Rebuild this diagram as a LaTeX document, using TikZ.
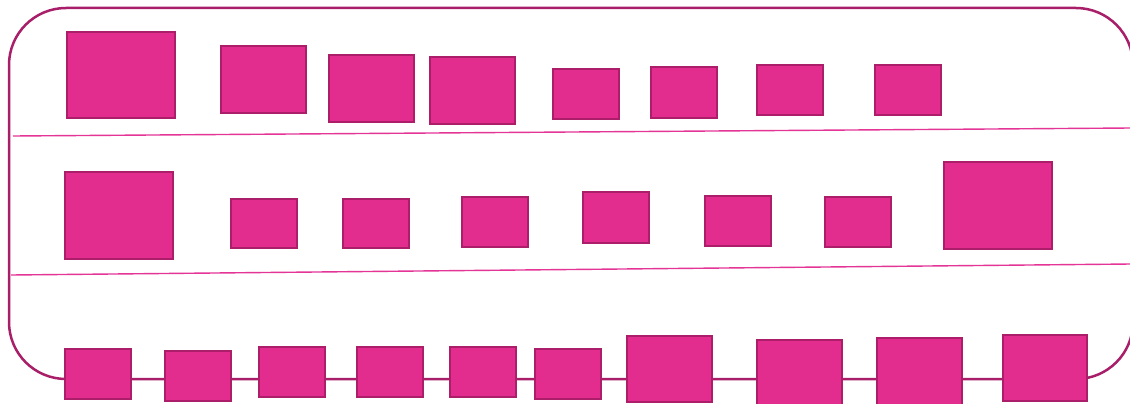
\documentclass[tikz,border=0pt]{standalone}
\definecolor{boxfill}{RGB}{226,45,143}
\definecolor{boxedge}{RGB}{172,30,106}
\definecolor{frameedge}{RGB}{168,30,104}
\definecolor{sepline}{RGB}{228,52,150}
\tikzset{
  pinkbox/.style={draw=boxedge, fill=boxfill, line width=2.6pt, inner sep=0pt, outer sep=0pt, anchor=north west},
  frame/.style={draw=frameedge, line width=2.5pt},
  sep/.style={draw=sepline, line width=1.4pt}
}
\newcommand{\pbox}[5]{\node[pinkbox, minimum width={#4-#2}, minimum height={#5-#3}] (#1) at (#2,#3) {};}
\begin{document}
\begin{tikzpicture}[x=1pt,y=-1pt]
\useasboundingbox (0,0) rectangle (1130,404);
\clip (0,0) rectangle (1130,404);
\fill[white] (0,0) rectangle (1130,404);
% frame
\draw[frame, rounded corners=57pt] (9,8) rectangle (1133,379);
% separators
\coordinate (s1a) at (13,136); \coordinate (s1b) at (1131,128);
\coordinate (s2a) at (11,275); \coordinate (s2b) at (1131,264);
\draw[sep] (s1a) -- (s1b);
\draw[sep] (s2a) -- (s2b);
% row 1
\pbox{a1}{67}{32}{175}{118}
\pbox{a2}{221}{46}{306}{113}
\pbox{a3}{329}{55}{414}{122}
\pbox{a4}{430}{57}{515}{124}
\pbox{a5}{553}{69}{619}{119}
\pbox{a6}{651}{67}{717}{118}
\pbox{a7}{757}{65}{823}{115}
\pbox{a8}{875}{65}{941}{115}
% row 2
\pbox{b1}{65}{172}{173}{259}
\pbox{b2}{231}{199}{297}{248}
\pbox{b3}{343}{199}{409}{248}
\pbox{b4}{462}{197}{528}{247}
\pbox{b5}{583}{192}{649}{243}
\pbox{b6}{705}{196}{771}{246}
\pbox{b7}{825}{197}{891}{247}
\pbox{b8}{944}{162}{1052}{249}
% row 3
\pbox{c1}{65}{349}{131}{399}
\pbox{c2}{165}{351}{231}{401}
\pbox{c3}{259}{347}{325}{397}
\pbox{c4}{357}{347}{423}{397}
\pbox{c5}{450}{347}{516}{397}
\pbox{c6}{535}{349}{601}{399}
\pbox{c7}{627}{336}{712}{402}
\pbox{c8}{757}{340}{842}{406}
\pbox{c9}{877}{338}{962}{406}
\pbox{c10}{1003}{335}{1087}{401}
\end{tikzpicture}
\end{document}
